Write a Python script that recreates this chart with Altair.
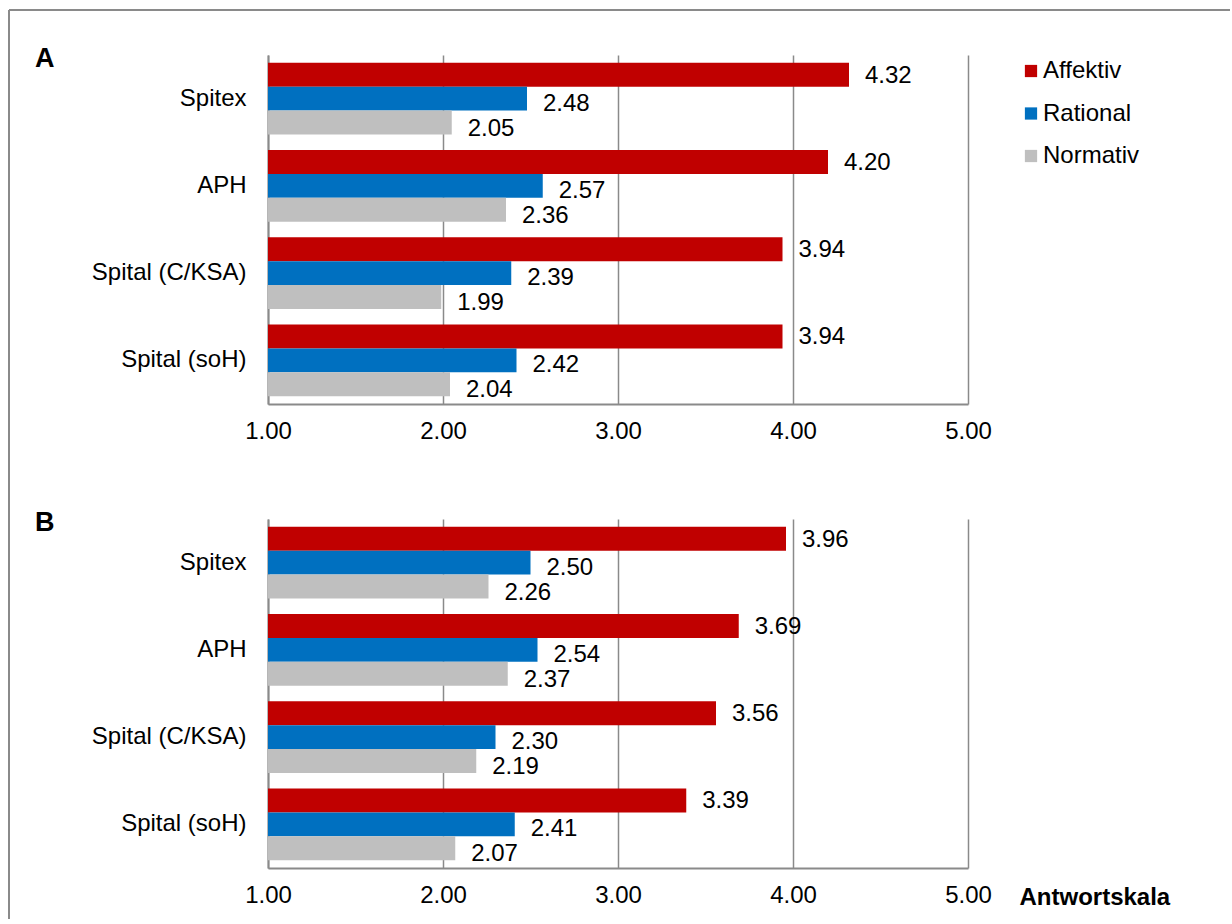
import altair as alt
import pandas as pd

categories = ["Spitex", "APH", "Spital (C/KSA)", "Spital (soH)"]
series = ["Affektiv", "Rational", "Normativ"]
colors = ["#C00000", "#0070C0", "#BFBFBF"]

a_affektiv = [4.32, 4.20, 3.94, 3.94]
a_rational = [2.48, 2.57, 2.39, 2.42]
a_normativ = [2.05, 2.36, 1.99, 2.04]

b_affektiv = [3.96, 3.69, 3.56, 3.39]
b_rational = [2.50, 2.54, 2.30, 2.41]
b_normativ = [2.26, 2.37, 2.19, 2.07]

tick_values = [1, 2, 3, 4, 5]
panel_labels = ["A", "B"]

FONT = "Liberation Sans"
GRAY = "#8a8a8a"
FS = 24


def make_df(aff, rat, nor):
    rows = []
    for vals, s in zip([aff, rat, nor], series):
        for c, v in zip(categories, vals):
            rows.append({"Kategorie": c, "Serie": s, "Wert": v})
    return pd.DataFrame(rows)


def panel(df, label, last):
    base = alt.Chart(df)
    y = alt.Y(
        "Kategorie:N",
        sort=categories,
        scale=alt.Scale(paddingInner=0.175, paddingOuter=0.0875),
        axis=alt.Axis(
            title=None, ticks=False, labelPadding=22, labelFontSize=FS,
            labelColor="black", domainColor=GRAY, domainWidth=2, grid=False,
            labelFont=FONT,
        ),
    )
    yoff = alt.YOffset("Serie:N", sort=series,
                       scale=alt.Scale(paddingInner=0, paddingOuter=0))
    xaxis_kwargs = dict(
        values=tick_values, format=".2f", ticks=False, labelPadding=15,
        labelFontSize=FS, labelColor="black", labelFont=FONT,
        labelFlush=False,
        domainColor=GRAY, domainWidth=2, grid=True, gridColor=GRAY,
        gridWidth=1.5,
    )
    if last:
        xaxis = alt.Axis(
            title="Antwortskala", titleFontSize=FS, titleFontWeight="bold",
            titleColor="black", titleFont=FONT, titleAlign="left",
            titleBaseline="alphabetic", titleX=751, titleY=36,
            **xaxis_kwargs,
        )
    else:
        xaxis = alt.Axis(title=None, **xaxis_kwargs)
    x = alt.X("Wert:Q", scale=alt.Scale(domain=[1, 5], nice=False, zero=False),
              axis=xaxis)
    color = alt.Color(
        "Serie:N", sort=series,
        scale=alt.Scale(domain=series, range=colors),
        legend=alt.Legend(
            title=None, orient="none", legendX=751, legendY=4,
            symbolType="square", symbolSize=150, symbolStrokeWidth=0,
            labelFontSize=FS, labelFont=FONT, labelColor="black",
            rowPadding=18.5, labelOffset=0,
        ),
    )
    bars = base.mark_bar(opacity=1).encode(
        x=x, x2=alt.X2(datum=1), y=y, yOffset=yoff, color=color
    )
    layers = [bars]
    for s, dy in zip(series, [1, 5, 6]):
        layers.append(
            base.transform_filter(alt.datum.Serie == s)
            .mark_text(align="left", baseline="middle", dx=16, dy=dy,
                       fontSize=FS, font=FONT, color="black")
            .encode(x=alt.X("Wert:Q"), y=alt.Y("Kategorie:N", sort=categories),
                    yOffset=alt.YOffset("Serie:N", sort=series),
                    text=alt.Text("Wert:Q", format=".2f"))
        )
    lab = alt.Chart(pd.DataFrame({"t": [label]})).mark_text(
        align="left", baseline="alphabetic", fontSize=27, fontWeight="bold",
        font=FONT, color="black"
    ).encode(x=alt.value(-233), y=alt.value(12), text="t:N")
    layers.append(lab)
    if not last:
        frame = pd.DataFrame({"f": [0]})
        top = alt.Chart(frame).mark_rule(color=GRAY, strokeWidth=2).encode(
            x=alt.value(-259), x2=alt.value(962), y=alt.value(-45))
        left = alt.Chart(frame).mark_rule(color=GRAY, strokeWidth=2).encode(
            x=alt.value(-259), y=alt.value(-45), y2=alt.value(864))
        layers += [top, left]
    return alt.layer(*layers).properties(width=700, height=349)


chart = alt.vconcat(
    panel(make_df(a_affektiv, a_rational, a_normativ), panel_labels[0], False),
    panel(make_df(b_affektiv, b_rational, b_normativ), panel_labels[1], True),
    spacing=115,
    bounds="flush",
).properties(
    padding={"left": 8, "top": 9, "right": 0, "bottom": 0},
    background="white",
).configure(font=FONT).configure_view(stroke=None, strokeWidth=0)

chart.save("out.html", embed_options={"renderer": "svg", "actions": False})
